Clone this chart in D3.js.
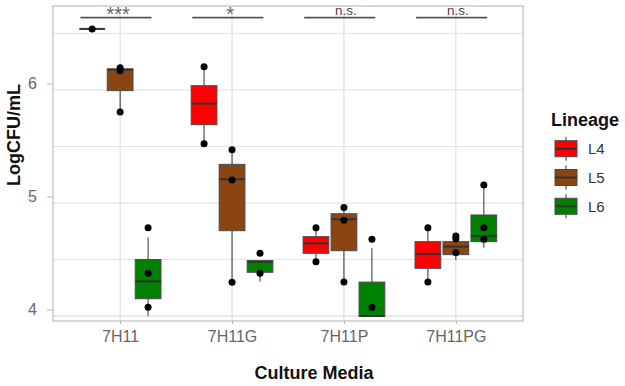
<!DOCTYPE html>
<html>
<head>
<meta charset="utf-8">
<script src="https://cdn.jsdelivr.net/npm/d3@7"></script>
<style>
  body { margin: 0; background: #fff; }
  text { font-family: "Liberation Sans", Arial, sans-serif; }
</style>
</head>
<body>
<div id="chart"></div>
<script>
// Data ------------------------------------------------------------
const media = ["7H11", "7H11G", "7H11P", "7H11PG"];
const lineages = ["L4", "L5", "L6"];
const lineageColors = ["#ff0000", "#8b4513", "#008000"];

// box stats per media: [min, q1, median, q3, max]
const l4Stats = [
    [6.54, 6.54, 6.54, 6.54, 6.54],
    [5.525, 5.693, 5.879, 6.038, 6.206],
    [4.48, 4.555, 4.643, 4.702, 4.782],
    [4.30, 4.422, 4.55, 4.658, 4.782]
];
const l5Stats = [
    [5.805, 5.994, 6.18, 6.186, 6.186],
    [4.298, 4.755, 5.21, 5.342, 5.472],
    [4.30, 4.578, 4.856, 4.905, 4.96],
    [4.496, 4.543, 4.614, 4.658, 4.717]
];
const l6Stats = [
    [4.0, 4.153, 4.307, 4.50, 4.696],
    [4.304, 4.387, 4.48, 4.49, 4.49],
    [4.0, 4.0, 4.0, 4.30, 4.60],
    [4.604, 4.658, 4.708, 4.894, 5.13]
];

// jittered points per media
const l4Points = [[6.54], [6.206, 5.525], [4.782, 4.48], [4.782, 4.30]];
const l5Points = [[6.197, 6.17, 5.805], [5.472, 5.204, 4.298], [4.96, 4.847, 4.30], [4.708, 4.684, 4.56]];
const l6Points = [[4.78, 4.378, 4.077], [4.555, 4.378], [4.68, 4.077], [5.16, 4.78, 4.68]];

// significance bars
const sigLabels = ["***", "*", "n.s.", "n.s."];
const sigY = 6.64;

const yMajor = [4, 5, 6];
const yMinor = [4.5, 5.5, 6.5];

const allStats = [l4Stats, l5Stats, l6Stats];
const allPoints = [l4Points, l5Points, l6Points];

// Layout ----------------------------------------------------------
var margin = { top: 6, right: 102, bottom: 65, left: 53 },
    width = 625 - margin.left - margin.right,
    height = 386 - margin.top - margin.bottom;

var svg = d3.select("#chart")
    .append("svg")
    .attr("width", 625)
    .attr("height", 386)
    .append("g")
    .attr("transform", "translate(" + margin.left + "," + margin.top + ")");

var x = d3.scalePoint()
    .domain(media)
    .range([0, width])
    .padding(0.6);

var y = d3.scaleLinear()
    .domain([3.956, 6.743])
    .range([height, 0]);

var dodge = x.step() * 0.25;
var boxW = x.step() * 0.23;

// Grid ------------------------------------------------------------
svg.selectAll(".gminor")
    .data(yMinor).enter().append("line")
    .attr("x1", 0).attr("x2", width)
    .attr("y1", d => y(d)).attr("y2", d => y(d))
    .attr("stroke", "#e3e3e3").attr("stroke-width", 1);

svg.selectAll(".gmajor")
    .data(yMajor).enter().append("line")
    .attr("x1", 0).attr("x2", width)
    .attr("y1", d => y(d)).attr("y2", d => y(d))
    .attr("stroke", "#dedede").attr("stroke-width", 1.2);

svg.selectAll(".gx")
    .data(media).enter().append("line")
    .attr("x1", d => x(d)).attr("x2", d => x(d))
    .attr("y1", 0).attr("y2", height)
    .attr("stroke", "#dedede").attr("stroke-width", 1.2);

// Boxes -----------------------------------------------------------
lineages.forEach(function (lin, li) {
    var g = svg.append("g");
    var stats = allStats[li];
    media.forEach(function (m, mi) {
        var s = stats[mi];
        var cx = x(m) + (li - 1) * dodge;
        // whiskers
        g.append("line")
            .attr("x1", cx).attr("x2", cx)
            .attr("y1", y(s[3])).attr("y2", y(s[4]))
            .attr("stroke", "#333").attr("stroke-width", 1);
        g.append("line")
            .attr("x1", cx).attr("x2", cx)
            .attr("y1", y(s[1])).attr("y2", y(s[0]))
            .attr("stroke", "#333").attr("stroke-width", 1);
        // box
        g.append("rect")
            .attr("x", cx - boxW / 2)
            .attr("y", y(s[3]))
            .attr("width", boxW)
            .attr("height", Math.max(0, y(s[1]) - y(s[3])))
            .attr("fill", lineageColors[li])
            .attr("stroke", "#4a4a4a")
            .attr("stroke-width", 1);
        // median
        g.append("line")
            .attr("x1", cx - boxW / 2).attr("x2", cx + boxW / 2)
            .attr("y1", y(s[2])).attr("y2", y(s[2]))
            .attr("stroke", "#333").attr("stroke-width", 2);
    });
});

// Points ----------------------------------------------------------
lineages.forEach(function (lin, li) {
    media.forEach(function (m, mi) {
        var cx = x(m) + (li - 1) * dodge;
        svg.selectAll(null)
            .data(allPoints[li][mi]).enter().append("circle")
            .attr("cx", cx)
            .attr("cy", d => y(d))
            .attr("r", 3.5)
            .attr("fill", "#000");
    });
});

// Panel border ----------------------------------------------------
svg.append("rect")
    .attr("x", 0).attr("y", 0)
    .attr("width", width).attr("height", height)
    .attr("fill", "none")
    .attr("stroke", "#bdbdbd")
    .attr("stroke-width", 1.2);

// Significance ----------------------------------------------------
media.forEach(function (m, mi) {
    svg.append("line")
        .attr("x1", x(m) - x.step() * 0.355)
        .attr("x2", x(m) + x.step() * 0.28)
        .attr("y1", y(sigY)).attr("y2", y(sigY))
        .attr("stroke", "#555").attr("stroke-width", 1.8);
    var star = sigLabels[mi].indexOf("*") >= 0;
    svg.append("text")
        .attr("x", x(m) - (star ? 2 : -2))
        .attr("y", y(sigY) + (star ? 3 : -2.5))
        .attr("text-anchor", "middle")
        .style("font-size", star ? "20px" : "13.5px")
        .style("fill", star ? "#666" : "#444")
        .text(sigLabels[mi]);
});

// Axes ------------------------------------------------------------
var xAxis = svg.append("g")
    .attr("transform", "translate(0," + height + ")")
    .call(d3.axisBottom(x).tickSize(3).tickPadding(7));
xAxis.select(".domain").remove();
xAxis.selectAll("line").attr("stroke", "#b3b3b3");
xAxis.selectAll("text")
    .style("font-size", "16px")
    .style("font-family", "'Liberation Sans', Arial, sans-serif")
    .attr("fill", "#666");

var yAxis = svg.append("g")
    .attr("transform", "translate(0,-6.5)")
    .call(d3.axisLeft(y).tickValues(yMajor).tickFormat(d3.format("d")).tickSize(6).tickPadding(10));
yAxis.select(".domain").remove();
yAxis.selectAll("line").attr("stroke", "#b3b3b3");
yAxis.selectAll("text")
    .style("font-size", "16px")
    .style("font-family", "'Liberation Sans', Arial, sans-serif")
    .attr("fill", "#666");

// Titles ----------------------------------------------------------
var root = d3.select("#chart svg");
root.append("text")
    .attr("transform", "translate(20,135) rotate(-90)")
    .attr("text-anchor", "middle")
    .style("font-size", "18px")
    .style("font-weight", "bold")
    .attr("fill", "#111")
    .text("LogCFU/mL");

root.append("text")
    .attr("x", 314).attr("y", 379)
    .attr("text-anchor", "middle")
    .style("font-size", "18px")
    .style("font-weight", "bold")
    .attr("fill", "#111")
    .text("Culture Media");

// Legend ----------------------------------------------------------
var legend = root.append("g").attr("transform", "translate(551,0)");
legend.append("text")
    .attr("x", 0).attr("y", 125.5)
    .style("font-size", "18px")
    .style("font-weight", "bold")
    .attr("fill", "#111")
    .text("Lineage");

var keys = legend.selectAll(".key")
    .data(lineages).enter().append("g")
    .attr("transform", (d, i) => "translate(0," + (148.7 + i * 28.8) + ")");
keys.append("line")
    .attr("x1", 15).attr("x2", 15).attr("y1", -12).attr("y2", 12)
    .attr("stroke", "#333").attr("stroke-width", 1);
keys.append("rect")
    .attr("x", 4).attr("y", -8).attr("width", 22).attr("height", 16)
    .attr("fill", (d, i) => lineageColors[i])
    .attr("stroke", "#4a4a4a").attr("stroke-width", 1);
keys.append("line")
    .attr("x1", 4).attr("x2", 26).attr("y1", 0).attr("y2", 0)
    .attr("stroke", "#333").attr("stroke-width", 2);
keys.append("text")
    .attr("x", 37).attr("y", 0).attr("dy", "0.35em")
    .style("font-size", "15px")
    .attr("fill", "#333")
    .text(d => d);
</script>
</body>
</html>
